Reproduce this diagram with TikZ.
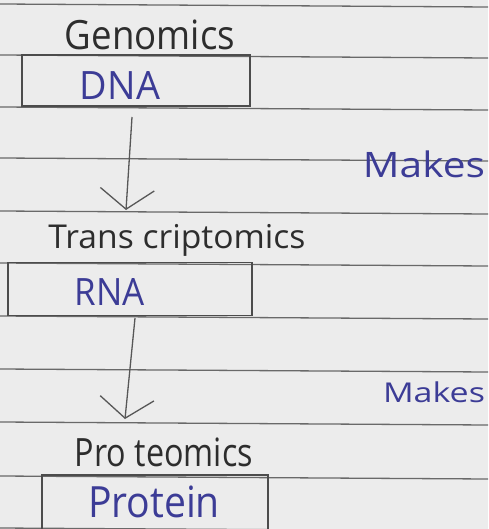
\documentclass[tikz,border=0pt]{standalone}
\usepackage{fontspec}
\usepackage{graphicx}
\setmainfont{Open Sans}
\usetikzlibrary{arrows.meta}
\definecolor{paper}{RGB}{236,236,236}
\definecolor{rule}{RGB}{105,105,105}
\definecolor{ink}{RGB}{45,45,45}
\definecolor{blueink}{RGB}{60,60,150}
\newcommand{\fitw}[3]{\resizebox*{#1pt}{#2pt}{#3}}
\begin{document}
\begin{tikzpicture}[x=1pt,y=-1pt,
  ruled/.style={draw=rule,line width=1.3pt},
  boxed/.style={draw=ink!85,line width=1.4pt,inner sep=0pt},
  word/.style={inner sep=0pt,text=ink},
  bword/.style={inner sep=0pt,text=blueink},
  flow/.style={draw=ink!80,line width=1.3pt,-{Straight Barb[length=20pt,width=54pt,line width=1.3pt]}}]
\useasboundingbox (0,0) rectangle (488,529);
\clip (0,0) rectangle (488,529);
\fill[paper] (0,0) rectangle (488,529);
\foreach \yy in {4,55,107,158,211,263,316,369,422,476,528}
  \draw[ruled] (0,\yy) -- (488,\yy+3);
% boxes
\node[boxed,minimum width=228pt,minimum height=51pt] (dnabox) at (136,80.5) {};
\node[boxed,minimum width=244pt,minimum height=53pt] (rnabox) at (130,289) {};
\node[boxed,minimum width=226pt,minimum height=80pt] (protbox) at (155,515) {};
% texts
\node[word] (genomics) at (150,35) {\fitw{170}{30}{Genomics}};
\node[bword] (dna) at (120,86) {\fitw{80}{28}{DNA}};
\node[bword] (makes1) at (424,164) {\fitw{122}{27}{Makes}};
\node[word] (transcr) at (177,240) {\fitw{257}{32}{Trans criptomics}};
\node[bword] (rna) at (110,292) {\fitw{70}{27}{RNA}};
\node[bword] (makes2) at (434,392) {\fitw{102}{21}{Makes}};
\node[word] (proteo) at (164,452) {\fitw{178}{29}{Pro teomics}};
\node[bword] (protein) at (154,502) {\fitw{132}{32}{Protein}};
% connectors
\coordinate (a1s) at (132,117);
\coordinate (a1e) at (126,210);
\coordinate (a2s) at (135,318);
\coordinate (a2e) at (125,419);
\draw[flow] (a1s) -- (a1e);
\draw[flow] (a2s) -- (a2e);
\end{tikzpicture}
\end{document}
